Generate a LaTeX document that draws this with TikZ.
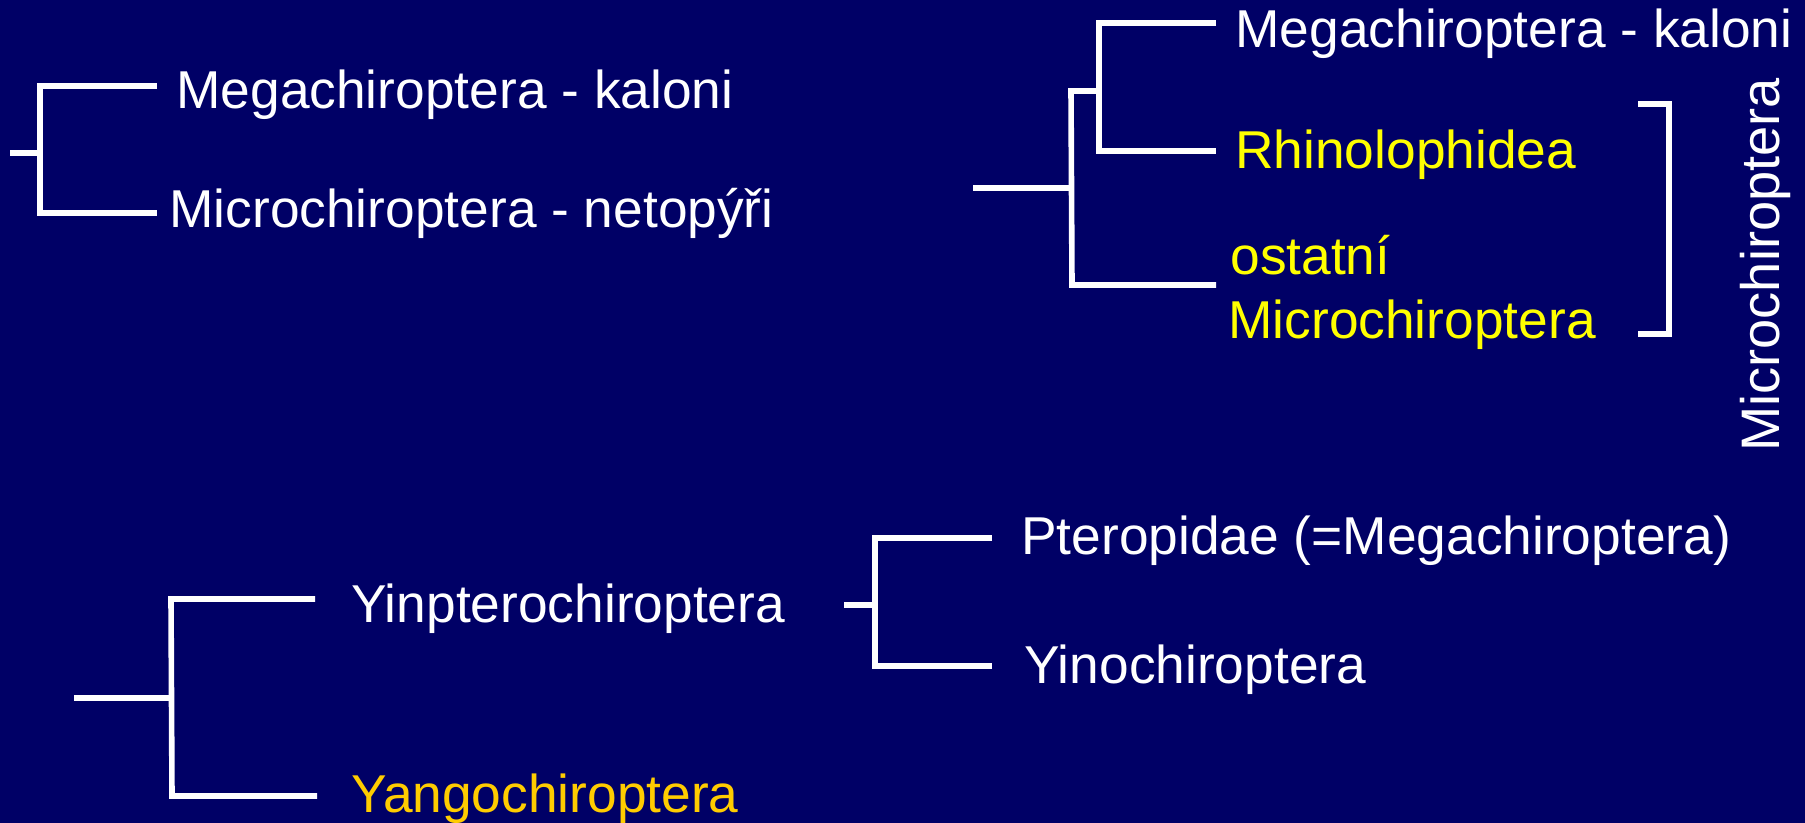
\documentclass[tikz,border=0pt]{standalone}
\usepackage{fontspec}
\setmainfont{Liberation Sans}
\definecolor{bg}{RGB}{0,0,102}
\definecolor{yel}{RGB}{255,255,0}
\definecolor{gold}{RGB}{255,204,0}
\begin{document}
\begin{tikzpicture}[x=0.5pt,y=-0.5pt,
  branch/.style={draw=white,line width=2.8pt},
  lbl/.style={inner sep=0pt,anchor=base west,text=white,font=\fontsize{26.65}{31}\selectfont},
  ylbl/.style={lbl,text=yel},
  glbl/.style={lbl,text=gold}]
\fill[bg] (0,0) rectangle (1805,823);
\useasboundingbox (0,0) rectangle (1805,823);

% ---- tree 1 (top left)
\coordinate (a0) at (10,153);
\coordinate (a1) at (40,153);
\coordinate (a1t) at (40,86);
\coordinate (a1b) at (40,213);
\coordinate (aTe) at (157,86);
\coordinate (aBe) at (157,213);
\draw[branch] (a0) -- (a1);
\draw[branch] (aTe) -- (a1t) -- (a1b) -- (aBe);
\node[lbl] (megaA) at (176,109) {Megachiroptera - kaloni};
\node[lbl] (microA) at (169,228) {Microchiroptera - netopýři};

% ---- tree 2 (top right)
\coordinate (b0) at (973,188);
\coordinate (b1) at (1071,188);
\coordinate (b1t) at (1071,91);
\coordinate (b1b) at (1072,285);
\coordinate (b2) at (1099,91);
\coordinate (b2t) at (1099,23);
\coordinate (b2b) at (1099,151);
\coordinate (bMe) at (1216,23);
\coordinate (bRe) at (1216,151);
\coordinate (bOe) at (1216,285);
\draw[branch] (b0) -- (b1);
\draw[branch] (b2) -- (b1t) -- (b1b) -- (bOe);
\draw[branch] (bMe) -- (b2t) -- (b2b) -- (bRe);
\node[lbl] (megaB) at (1235,48) {Megachiroptera - kaloni};
\node[ylbl] (rhino) at (1235,169) {Rhinolophidea};
\node[ylbl] (ost) at (1230,275) {ostatní};
\node[ylbl] (microB) at (1228,339) {Microchiroptera};
% bracket
\coordinate (k1) at (1638,104);
\coordinate (k2) at (1669,104);
\coordinate (k3) at (1669,334);
\coordinate (k4) at (1638,334);
\draw[branch] (k1) -- (k2) -- (k3) -- (k4);
\node[lbl,rotate=90,font=\fontsize{27.1}{32}\selectfont] (microR) at (1779,452) {Microchiroptera};

% ---- tree 3 (bottom left)
\coordinate (c0) at (74,698);
\coordinate (c1) at (171,698);
\coordinate (c1t) at (171,599);
\coordinate (c1b) at (172,796);
\coordinate (cTe) at (315,599);
\coordinate (cBe) at (317,796);
\draw[branch] (c0) -- (c1);
\draw[branch] (cTe) -- (c1t) -- (c1b) -- (cBe);
\node[lbl] (yinp) at (351,622) {Yinpterochiroptera};
\node[glbl] (yang) at (351,812) {Yangochiroptera};

% ---- tree 4 (bottom right)
\coordinate (d0) at (844,605);
\coordinate (d1) at (875,605);
\coordinate (d1t) at (875,538);
\coordinate (d1b) at (875,666);
\coordinate (dTe) at (992,538);
\coordinate (dBe) at (992,666);
\draw[branch] (d0) -- (d1);
\draw[branch] (dTe) -- (d1t) -- (d1b) -- (dBe);
\node[lbl] (ptero) at (1021,554) {Pteropidae (=Megachiroptera)};
\node[lbl] (yino) at (1024,683) {Yinochiroptera};
\end{tikzpicture}
\end{document}
